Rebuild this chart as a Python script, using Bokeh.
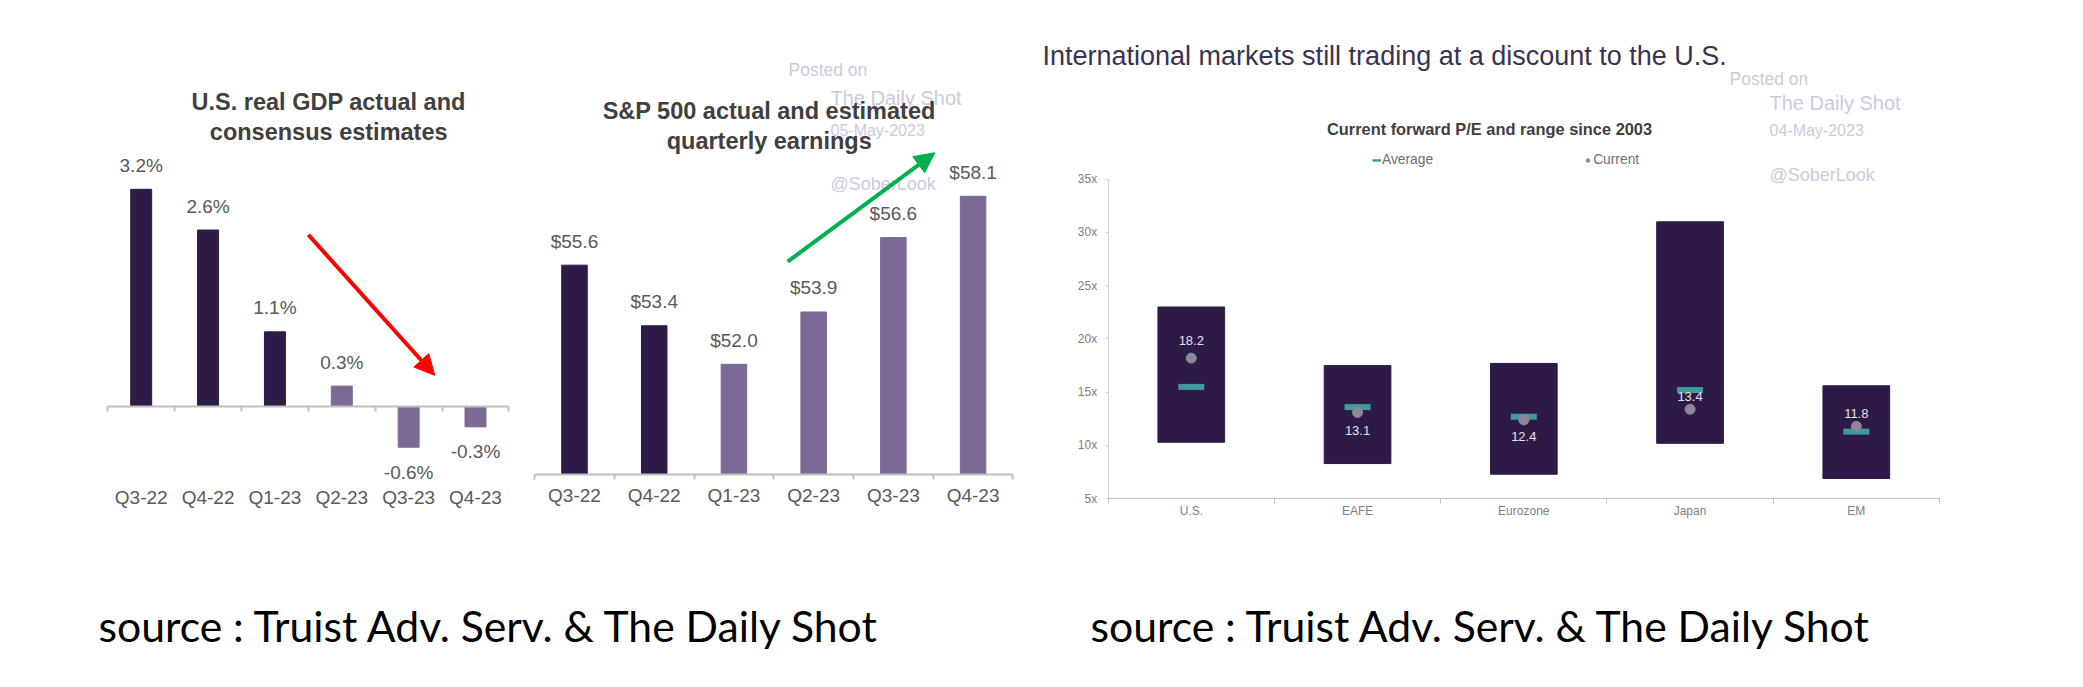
from bokeh.plotting import figure
from bokeh.models import (Range1d, LinearAxis, FixedTicker, Label, LabelSet, ColumnDataSource,
                          Arrow, NormalHead, Legend, LegendItem)
from bokeh.core.properties import value
from bokeh.embed import file_html
from bokeh.resources import INLINE

# ---- data ----
quarters = ["Q3-22", "Q4-22", "Q1-23", "Q2-23", "Q3-23", "Q4-23"]
gdp_values = [3.2, 2.6, 1.1, 0.3, -0.6, -0.3]
gdp_colors = ["dark", "dark", "dark", "light", "light", "light"]
eps_values = [55.6, 53.4, 52.0, 53.9, 56.6, 58.1]
eps_colors = ["dark", "dark", "light", "light", "light", "light"]
markets = ["U.S.", "EAFE", "Eurozone", "Japan", "EM"]
pe_high = [23.0, 17.5, 17.7, 31.0, 15.6]
pe_low = [10.3, 8.3, 7.3, 10.2, 6.9]
pe_average = [15.5, 13.6, 12.7, 15.2, 11.3]
pe_current = [18.2, 13.1, 12.4, 13.4, 11.8]
pe_ticks = [5, 10, 15, 20, 25, 30, 35]

# ---- styles ----
DARK, LIGHT = "#2E1A47", "#7B6A96"
palette = {"dark": DARK, "light": LIGHT}
TEAL, DOT = "#3F9C9B", "#8C8899"
WATER = "#CDCAE0"
FONT = "Liberation Sans"
PAGE_W, PAGE_H = 2067, 671


def span(v0, px0, v1, px1, lo, hi):
    """Range covering page pixels lo..hi given two anchor (value, pixel) pairs."""
    k = (v1 - v0) / (px1 - px0)
    return Range1d(v0 + (lo - px0) * k, v0 + (hi - px0) * k)


p = figure(width=PAGE_W, height=PAGE_H, output_backend="svg", toolbar_location=None,
           x_range=Range1d(0, PAGE_W), y_range=Range1d(PAGE_H, 0),
           x_axis_type=None, y_axis_type=None, min_border=0, outline_line_color=None,
           background_fill_color="white", border_fill_color="white")
p.grid.visible = False

L, R = 0, PAGE_W
B, T = PAGE_H, 0
p.extra_x_ranges = {
    "gdp_x": span(1, 140.7, 6, 475, L, R),
    "eps_x": span(1, 574, 6, 972.6, L, R),
    "pe_x": span(1, 1190.8, 5, 1855.8, L, R),
}
p.extra_y_ranges = {
    "gdp_y": span(0, 406, 3.2, 188.8, B, T),
    "eps_y": span(48, 474, 58.1, 195.8, B, T),
    "pe_y": span(5, 498.2, 35, 178.7, B, T),
}


def text(s, x, y, size, color, align="center", style="normal"):
    p.add_layout(Label(x=x, y=y, text=s, text_font=FONT, text_font_size=f"{size}px", text_color=color,
                       text_align=align, text_baseline="middle", text_font_style=style))


def category_axis(names, name, loc, standoff, size, color, line_width):
    n = len(names)
    pos = list(range(1, n + 1))
    ax = LinearAxis(x_range_name=name + "_x", y_range_name=name + "_y", fixed_location=loc,
                    ticker=FixedTicker(ticks=pos, minor_ticks=[i + 0.5 for i in range(n + 1)]),
                    major_label_overrides=dict(zip(pos, names)), bounds=(0.5, n + 0.5),
                    major_tick_in=0, major_tick_out=0, minor_tick_in=0, minor_tick_out=5,
                    axis_line_color="#BFBFBF", axis_line_width=line_width,
                    major_tick_line_color=None, minor_tick_line_color="#BFBFBF",
                    minor_tick_line_width=line_width,
                    major_label_standoff=standoff, major_label_text_font=FONT,
                    major_label_text_font_size=f"{size}px", major_label_text_color=color)
    p.add_layout(ax, "below")


def bars(values, kinds, name, base, width, labels, offs):
    src = ColumnDataSource(dict(x=list(range(1, len(values) + 1)), top=values,
                                color=[palette[k] for k in kinds], label=labels, offs=offs))
    p.vbar(x="x", top="top", bottom=base, width=width, color="color", source=src,
           x_range_name=name + "_x", y_range_name=name + "_y")
    p.add_layout(LabelSet(x="x", y="top", text="label", y_offset="offs", source=src,
                          x_range_name=name + "_x", y_range_name=name + "_y",
                          text_font=value(FONT), text_font_size=value("19px"), text_color="#595959",
                          text_align="center", text_baseline="middle"))


# ---- left panel: GDP ----
bars(gdp_values, gdp_colors, "gdp", 0, 21 / 67, [f"{v:.1f}%" for v in gdp_values],
     [24 if v > 0 else -25 for v in gdp_values])
category_axis(quarters, "gdp", 0, 75, 19, "#595959", 2)
text("U.S. real GDP actual and", 328.2, 101.8, 23.5, "#404040", style="bold")
text("consensus estimates", 328.2, 131.7, 23.5, "#404040", style="bold")
p.add_layout(Arrow(x_start=3.5, y_start=2.53, x_end=5.39, y_end=0.46,
                   x_range_name="gdp_x", y_range_name="gdp_y", line_color="#FF0000", line_width=4,
                   end=NormalHead(size=20, fill_color="#FF0000", line_color="#FF0000")))

# ---- middle panel: S&P 500 EPS ----
bars(eps_values, eps_colors, "eps", 48, 25.6 / 80, [f"${v:.1f}" for v in eps_values], [24] * 6)
category_axis(quarters, "eps", 48, 5, 19, "#595959", 2)
text("Posted on", 788, 69.4, 17.5, WATER, "left")
text("The Daily Shot", 830, 97.5, 20, WATER, "left")
text("05-May-2023", 830, 130.4, 16, WATER, "left")
text("@SoberLook", 830, 183.5, 18, WATER, "left")
text("S&P 500 actual and estimated", 768.7, 110.6, 23.5, "#404040", style="bold")
text("quarterly earnings", 768.7, 140.9, 23.5, "#404040", style="bold")
p.add_layout(Arrow(x_start=3.675, y_start=55.73, x_end=5.52, y_end=59.68,
                   x_range_name="eps_x", y_range_name="eps_y", line_color="#00B050", line_width=4,
                   end=NormalHead(size=20, fill_color="#00B050", line_color="#00B050")))

# ---- right panel: forward P/E ----
pos = list(range(1, len(markets) + 1))
rng = dict(x_range_name="pe_x", y_range_name="pe_y")
p.vbar(x=pos, top=pe_high, bottom=pe_low, width=66.7 / 166.25, color=DARK, **rng)
half = 13 / 166.25
p.segment(x0=[i - half for i in pos], x1=[i + half for i in pos], y0=pe_average, y1=pe_average,
          line_color=TEAL, line_width=6, **rng)
p.scatter(x=pos, y=pe_current, size=10, color=DOT, **rng)
cur_src = ColumnDataSource(dict(x=pos, y=pe_current, label=[f"{v:.1f}" for v in pe_current],
                                offs=[18, -18.5, -17, 12.5, 13]))
p.add_layout(LabelSet(x="x", y="y", text="label", y_offset="offs", source=cur_src,
                      text_font=value(FONT), text_font_size=value("13px"), text_color="#E4E2EC",
                      text_align="center", text_baseline="middle", **rng))
category_axis(markets, "pe", 5, 0, 12, "#7F7F7F", 1)
yax = LinearAxis(fixed_location=0.5, ticker=FixedTicker(ticks=pe_ticks), bounds=(5, 35),
                 major_label_overrides={t: f"{t}x" for t in pe_ticks},
                 major_tick_in=0, major_tick_out=3, minor_tick_line_color=None,
                 axis_line_color="#D0D0D0", major_tick_line_color="#D0D0D0",
                 major_label_standoff=8, major_label_text_font=FONT, major_label_text_font_size="12px",
                 major_label_text_color="#7F7F7F", **rng)
p.add_layout(yax, "left")

# legend keys: kept off-canvas so only their legend icons show
avg_key = p.line(x=[-50, -49], y=[0, 0], line_color=TEAL, line_width=2.5, **rng)
cur_key = p.scatter(x=[-50], y=[0], size=8, color=DOT, **rng)
legend = Legend(items=[LegendItem(label="Average", renderers=[avg_key]),
                       LegendItem(label="Current", renderers=[cur_key])],
                orientation="horizontal", location=(1372, 504), border_line_color=None,
                background_fill_alpha=0, glyph_width=9, glyph_height=10, label_standoff=1,
                spacing=150, margin=0, padding=4, label_text_font=FONT, label_text_font_size="13.8px",
                label_text_color="#6F6F6F")
p.add_layout(legend)

text("International markets still trading at a discount to the U.S.", 1042, 55, 27, "#3A3350", "left")
text("Current forward P/E and range since 2003", 1489, 128.5, 16.4, "#404040", style="bold")
text("Posted on", 1729, 78, 17.5, WATER, "left")
text("The Daily Shot", 1769, 102.5, 20, WATER, "left")
text("04-May-2023", 1769, 130, 16, WATER, "left")
text("@SoberLook", 1769, 174, 18, WATER, "left")

# ---- source lines ----
p.add_layout(Label(x=98, y=625, text="source : Truist Adv. Serv. & The Daily Shot", text_font="Lato",
                   text_font_size="42.7px", text_color="#000000", text_baseline="middle"))
p.add_layout(Label(x=1090, y=625, text="source : Truist Adv. Serv. & The Daily Shot", text_font="Lato",
                   text_font_size="42.7px", text_color="#000000", text_baseline="middle"))

open("out.html", "w").write(file_html(p, INLINE))
